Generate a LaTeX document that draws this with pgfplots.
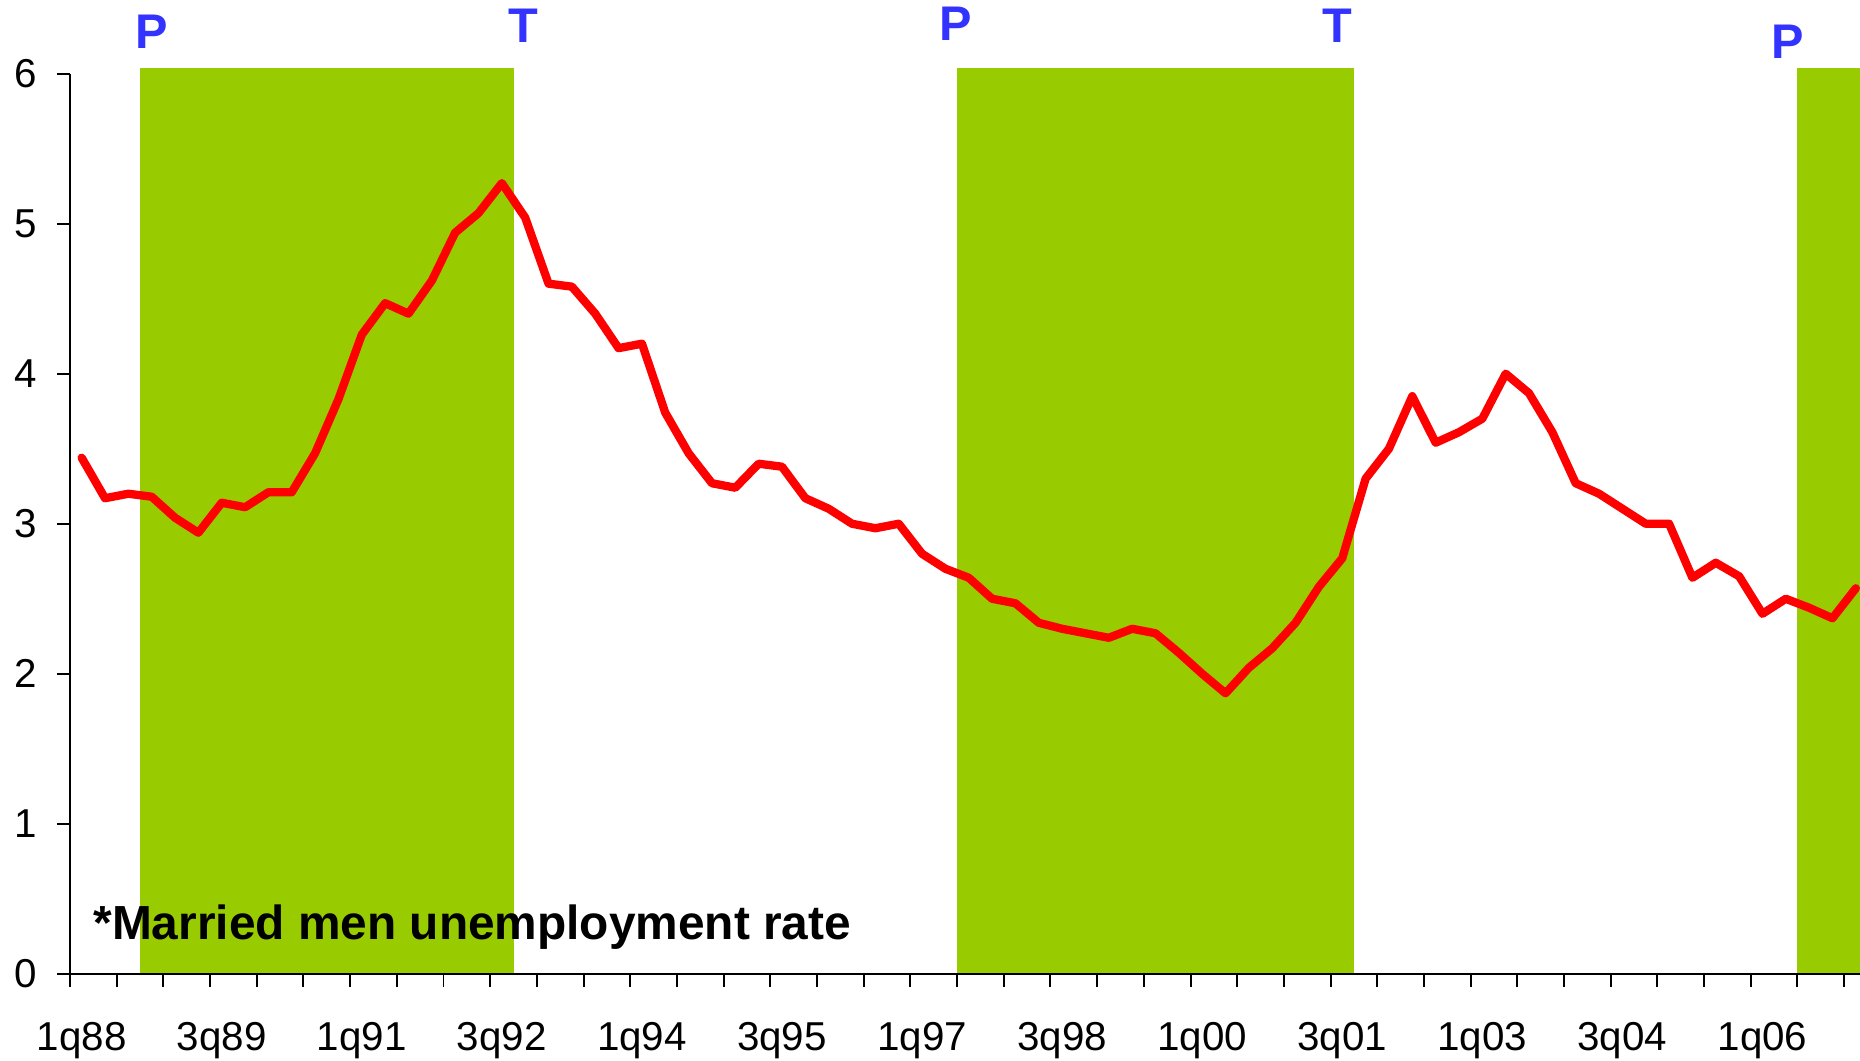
\documentclass[border=0pt]{standalone}
\usepackage{fontspec}
\setmainfont{Liberation Sans}
\usepackage{pgfplots}
\pgfplotsset{compat=1.18}
\definecolor{recgreen}{RGB}{153,204,0}
\definecolor{pblue}{RGB}{51,51,255}
\begin{document}
\begin{tikzpicture}
\begin{axis}[
 at={(0,0)}, anchor=south west,
 width=452.7pt, height=227.7pt, scale only axis,
 xmin=-0.5, xmax=76.18, ymin=0, ymax=6,
 axis lines=left, axis line style={-, black, line width=0.5pt},
 clip=false, axis on top,
 xtick={-0.5,1.5,...,75.5}, xticklabels={},
 extra x ticks={0,6,...,72},
 extra x tick labels={1q88,3q89,1q91,3q92,1q94,3q95,1q97,3q98,1q00,3q01,1q03,3q04,1q06},
 extra x tick style={major tick length=0pt, xticklabel style={anchor=base, yshift=-19.3pt}},
 ytick={0,...,6},
 tick align=outside, major tick length=3.3pt,
 tick style={black, line width=0.5pt},
 ticklabel style={font=\fontsize{10.2}{12}\selectfont},
 yticklabel style={xshift=-1.6pt},
 /pgf/number format/assume math mode=true,
]
\addplot[fill=recgreen, draw=none, forget plot] coordinates {(2.5,6.04) (18.5,6.04)} \closedcycle;
\addplot[fill=recgreen, draw=none, forget plot] coordinates {(37.5,6.04) (54.5,6.04)} \closedcycle;
\addplot[fill=recgreen, draw=none, forget plot] coordinates {(73.5,6.04) (76.18,6.04)} \closedcycle;
\addplot[red, line width=2.1pt, line join=round, line cap=round, mark=none] table {
x y
0 3.44
1 3.17
2 3.20
3 3.18
4 3.04
5 2.94
6 3.14
7 3.11
8 3.21
9 3.21
10 3.47
11 3.83
12 4.26
13 4.47
14 4.40
15 4.62
16 4.94
17 5.07
18 5.27
19 5.04
20 4.60
21 4.58
22 4.40
23 4.17
24 4.20
25 3.74
26 3.47
27 3.27
28 3.24
29 3.40
30 3.38
31 3.17
32 3.10
33 3.00
34 2.97
35 3.00
36 2.80
37 2.70
38 2.64
39 2.50
40 2.47
41 2.34
42 2.30
43 2.27
44 2.24
45 2.30
46 2.27
47 2.14
48 2.00
49 1.87
50 2.04
51 2.17
52 2.34
53 2.58
54 2.77
55 3.30
56 3.50
57 3.85
58 3.54
59 3.61
60 3.70
61 4.00
62 3.87
63 3.61
64 3.27
65 3.20
66 3.10
67 3.00
68 3.00
69 2.64
70 2.74
71 2.65
72 2.40
73 2.50
74 2.44
75 2.37
76 2.57
};
\node[anchor=base west, inner sep=0pt, font=\bfseries\fontsize{12.1}{14}\selectfont] at (axis cs:0.47,0.23) {*Married men unemployment rate};
\node[pblue, font=\bfseries\fontsize{12.3}{14}\selectfont] at (axis cs:3.0,6.28) {P};
\node[pblue, font=\bfseries\fontsize{12.3}{14}\selectfont] at (axis cs:18.9,6.32) {T};
\node[pblue, font=\bfseries\fontsize{12.3}{14}\selectfont] at (axis cs:37.46,6.33) {P};
\node[pblue, font=\bfseries\fontsize{12.3}{14}\selectfont] at (axis cs:53.8,6.32) {T};
\node[pblue, font=\bfseries\fontsize{12.3}{14}\selectfont] at (axis cs:73.1,6.21) {P};
\end{axis}
\pgfresetboundingbox
\path[use as bounding box] (-17.7pt,-21.9pt) rectangle (452.7pt,246.3pt);
\end{tikzpicture}
\end{document}
